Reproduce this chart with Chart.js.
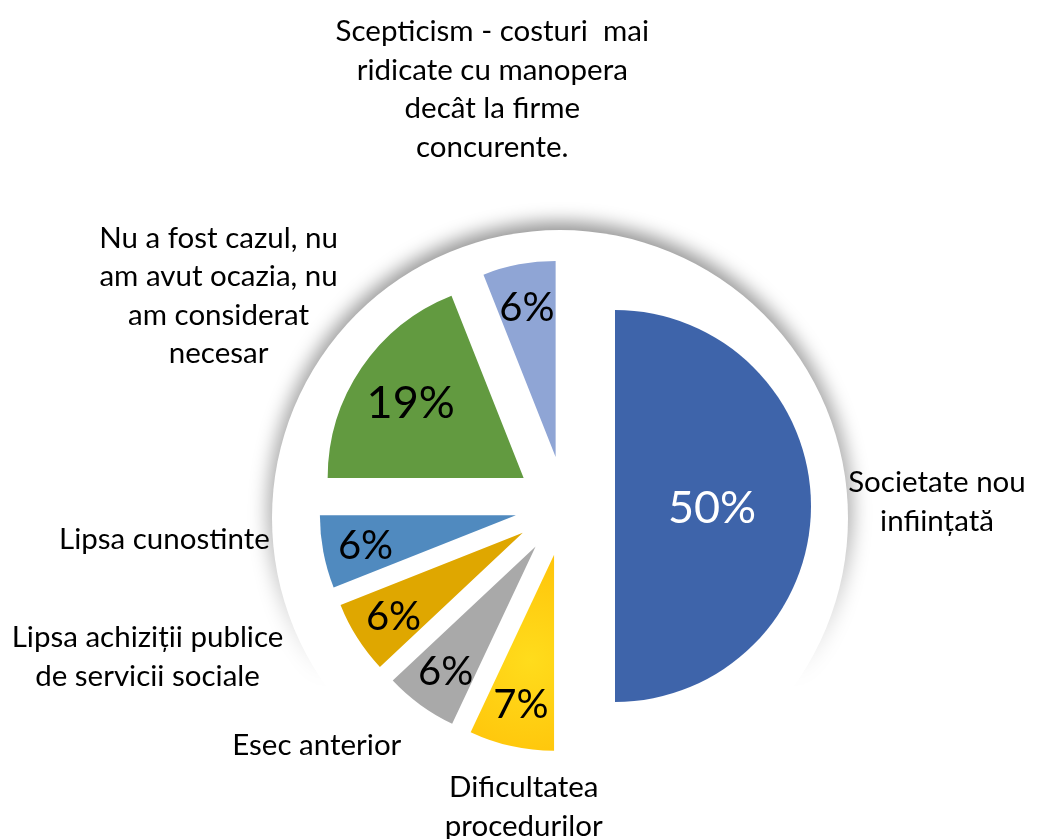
<!DOCTYPE html>
<html>
<head>
<meta charset="utf-8">
<script src="https://cdn.jsdelivr.net/npm/chart.js@4.4.0/dist/chart.umd.min.js"></script>
<style>
  html, body { margin: 0; padding: 0; background: #fff; }
  #wrap { width: 1041px; height: 839px; }
</style>
</head>
<body>
<div id="wrap"><canvas id="pie" width="1041" height="839"></canvas></div>
<script>
// categories, one entry per slice (lines as wrapped in the original)
const categories = [
  ['Societate nou', 'inființată'],
  ['Dificultatea', 'procedurilor'],
  ['Esec anterior'],
  ['Lipsa achiziții publice', 'de servicii sociale'],
  ['Lipsa cunostinte'],
  ['Nu a fost cazul, nu', 'am avut ocazia, nu', 'am considerat', 'necesar'],
  ['Scepticism - costuri  mai', 'ridicate cu manopera', 'decât la firme', 'concurente.']
];
// share of answers, percent
const shares = [50, 7, 6, 6, 6, 19, 6];

// styling
const sliceColors = ['#3E64AA', '#FFC40A', '#A9A9A9', '#DFA700', '#508ABF', '#629A40', '#8FA5D5'];
const sliceGlow = [null, '#FFDC1C', null, null, null, null, null];
const pctColors = ['#ffffff', '#000000', '#000000', '#000000', '#000000', '#000000', '#000000'];
const EXPLODE = 50;          // px each slice is pulled out
const FONT = 'Lato, "Open Sans", sans-serif';
const LINE_H = 38.5;
// where the category text sits: distance from centre, angle nudge (deg) from slice middle
const labelPlace = [[372, -0.6], [304, -4.8], [345, 10], [444, 12.5], [402, 6], [405, -3], [423, 0.9]];

const pieDecor = {
  id: 'pieDecor',
  // white disc behind the pie, shadow only on its upper part
  beforeDatasetsDraw(chart) {
    const arc = chart.getDatasetMeta(0).data[0];
    const ctx = chart.ctx;
    const X = arc.x - 5, Y = arc.y + 12, R = arc.outerRadius + 92;
    ctx.save();
    ctx.filter = 'blur(9px)';
    const lg = ctx.createLinearGradient(0, Y - R, 0, Y + R);
    lg.addColorStop(0, 'rgba(0,0,0,0.42)');
    lg.addColorStop(0.5, 'rgba(0,0,0,0.3)');
    lg.addColorStop(0.78, 'rgba(0,0,0,0)');
    ctx.fillStyle = lg;
    ctx.beginPath();
    ctx.arc(X, Y - 3, R + 5, 0, Math.PI * 2);
    ctx.fill();
    ctx.restore();
    ctx.save();
    ctx.fillStyle = '#ffffff';
    ctx.beginPath();
    ctx.arc(X, Y, R, 0, Math.PI * 2);
    ctx.fill();
    ctx.restore();
  },
  // exploded slices: let each arc draw itself, shifted along its middle angle
  beforeDatasetDraw(chart, args) {
    const ctx = chart.ctx;
    args.meta.data.forEach((arc, i) => {
      const mid = (arc.startAngle + arc.endAngle) / 2;
      ctx.save();
      ctx.translate(Math.cos(mid) * EXPLODE, Math.sin(mid) * EXPLODE);
      if (sliceGlow[i]) {
        const gx = arc.x + Math.cos(mid) * arc.outerRadius * 0.55;
        const gy = arc.y + Math.sin(mid) * arc.outerRadius * 0.55;
        const g = ctx.createRadialGradient(gx, gy, 0, gx, gy, arc.outerRadius * 0.55);
        g.addColorStop(0, sliceGlow[i]);
        g.addColorStop(1, sliceColors[i]);
        arc.options.backgroundColor = g;
      }
      arc.draw(ctx, chart.chartArea);
      ctx.restore();
    });
    return false;
  },
  afterDatasetsDraw(chart) {
    const meta = chart.getDatasetMeta(0);
    const total = shares.reduce((a, b) => a + b, 0);
    const ctx = chart.ctx;
    ctx.save();
    ctx.textAlign = 'center';
    ctx.textBaseline = 'middle';
    meta.data.forEach((arc, i) => {
      const mid = (arc.startAngle + arc.endAngle) / 2;
      const share = shares[i] / total;
      // percentage inside the slice
      const d = EXPLODE + arc.outerRadius * (0.82 - 0.65 * share);
      ctx.fillStyle = pctColors[i];
      ctx.font = (share > 0.15 ? 45 : 40) + 'px ' + FONT;
      ctx.fillText(Math.round(share * 100) + '%', arc.x + Math.cos(mid) * d, arc.y + Math.sin(mid) * d + 2);
      // category text outside
      const [dist, nudge] = labelPlace[i];
      const a = mid + nudge * Math.PI / 180;
      const cx = arc.x + Math.cos(a) * dist;
      const cy = arc.y + Math.sin(a) * dist;
      const lines = categories[i];
      ctx.fillStyle = '#000000';
      ctx.font = '29.5px ' + FONT;
      lines.forEach((ln, k) => {
        ctx.fillText(ln, cx, cy + (k - (lines.length - 1) / 2) * LINE_H);
      });
    });
    ctx.restore();
  }
};

new Chart(document.getElementById('pie'), {
  type: 'pie',
  data: {
    labels: categories,
    datasets: [{
      data: shares,
      backgroundColor: sliceColors,
      borderWidth: 0,
      hoverOffset: 0,
      radius: 196
    }]
  },
  options: {
    responsive: false,
    devicePixelRatio: 1,
    animation: false,
    events: [],
    layout: { padding: { left: 89, right: 0, top: 173, bottom: 0 } },
    plugins: {
      legend: { display: false },
      tooltip: { enabled: false }
    }
  },
  plugins: [pieDecor]
});
</script>
</body>
</html>
